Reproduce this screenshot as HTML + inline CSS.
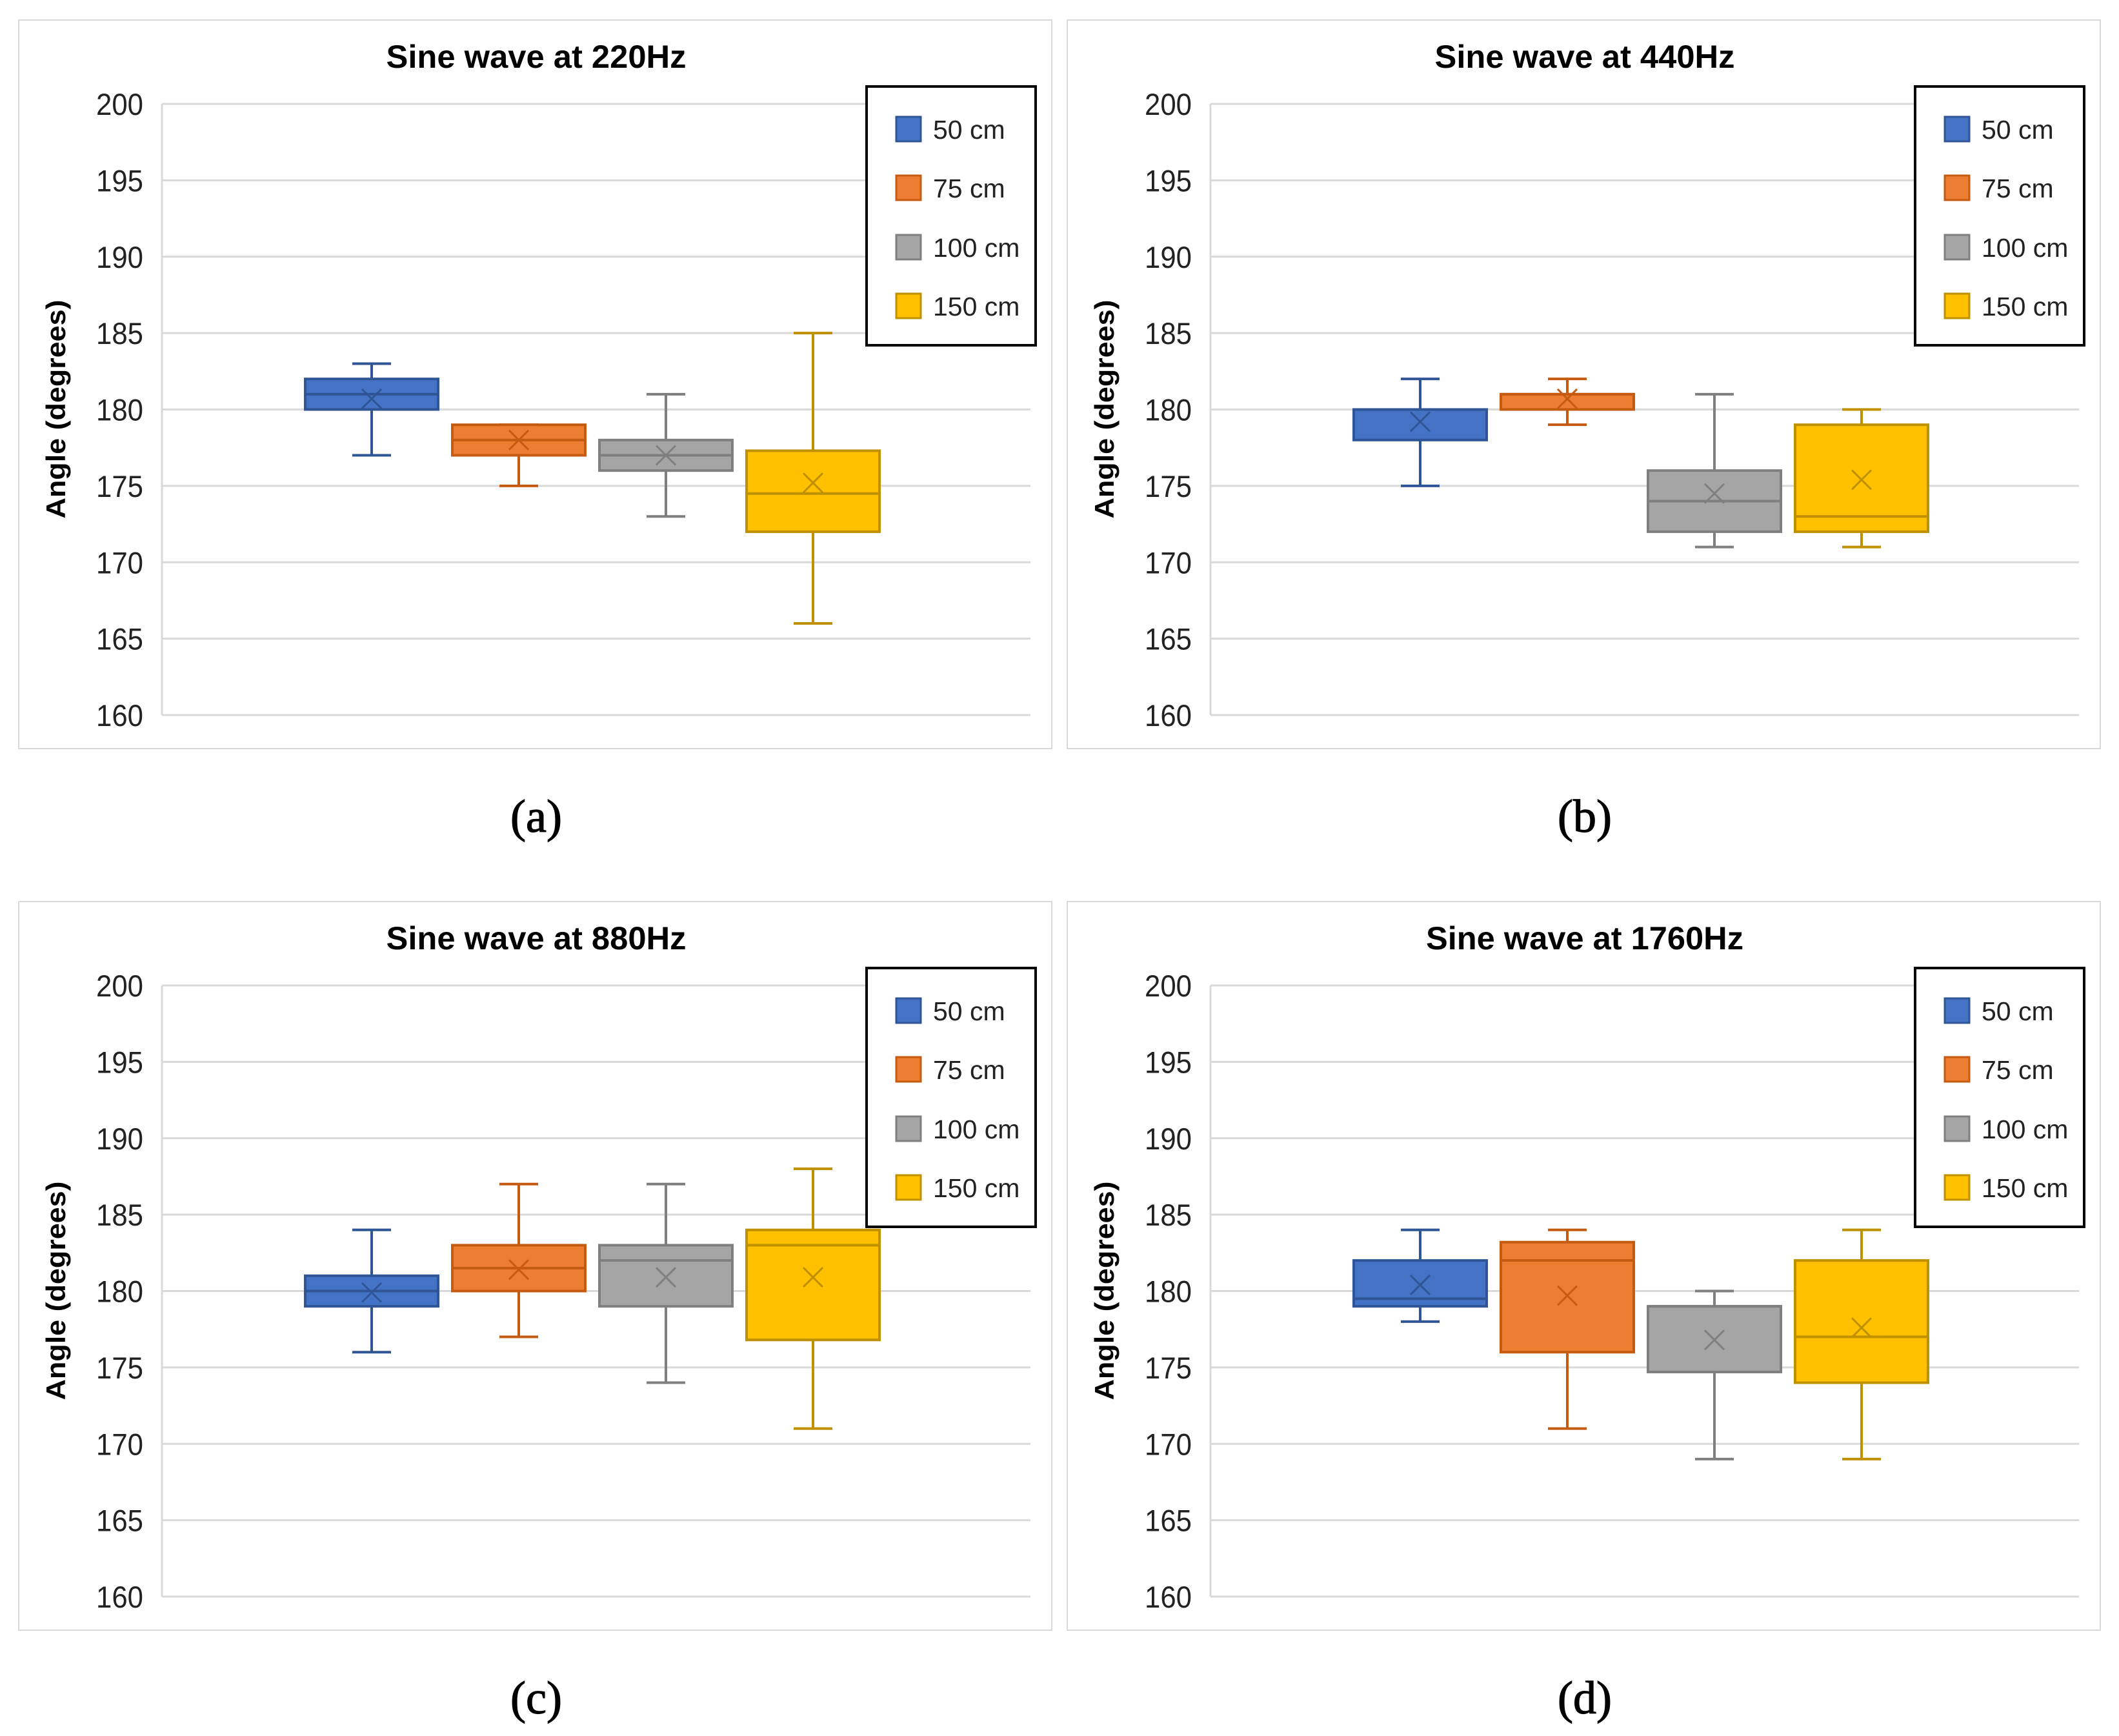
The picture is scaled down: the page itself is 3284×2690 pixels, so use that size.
<!DOCTYPE html>
<html><head><meta charset="utf-8"><style>
html,body{margin:0;padding:0;background:#fff;}
svg{display:block;}
</style></head><body>
<svg id="chart" xmlns="http://www.w3.org/2000/svg" width="3284" height="2690" viewBox="0 0 3284 2690"></svg>
<script>
const panelTitles = ["Sine wave at 220Hz","Sine wave at 440Hz","Sine wave at 880Hz","Sine wave at 1760Hz"];
const panelCaptions = ["(a)","(b)","(c)","(d)"];
const seriesNames = ["50 cm","75 cm","100 cm","150 cm"];
const yTicks = [160,165,170,175,180,185,190,195,200];
// per panel, per series: [min, q1, median, q3, max, mean]
const statsA = [[177,180,181,182,183,180.7],[175,177,178,179,179,178],[173,176,177,178,181,177],[166,172,174.5,177.3,185,175.2]];
const statsB = [[175,178,180,180,182,179.2],[179,180,181,181,182,180.7],[171,172,174,176,181,174.5],[171,172,173,179,180,175.4]];
const statsC = [[176,179,180,181,184,179.9],[177,180,181.5,183,187,181.4],[174,179,182,183,187,180.9],[171,176.8,183,184,188,180.9]];
const statsD = [[178,179,179.5,182,184,180.4],[171,176,182,183.2,184,179.7],[169,174.7,179,179,180,176.8],[169,174,177,182,184,177.6]];
const allStats = [statsA,statsB,statsC,statsD];

const fills = ["#4472C4","#ED7D31","#A5A5A5","#FFC000"];
const strokes = ["#2F5597","#C55A11","#7F7F7F","#BF9000"];
const NS = "http://www.w3.org/2000/svg";
const svg = document.getElementById('chart');
function mk(tag, attrs, parent){const e=document.createElementNS(NS,tag);for(const k in attrs)e.setAttribute(k,attrs[k]);(parent||svg).appendChild(e);return e;}

const offsets = [[0,0],[1625,0],[0,1366],[1625,1366]];
offsets.forEach((off,p)=>{
  const ox=off[0], oy=off[1];
  const g = mk('g',{transform:`translate(${ox},${oy})`});
  
  
  const border = mk('rect',{x:29,y:31,width:1601,height:1129,fill:'none',stroke:'#d9d9d9','stroke-width':2},g);
  
  
  const L=251,R=1597,T=161,B=1108;
  const yS = v => B - (v-160)/(200-160)*(B-T);
  const xC = i => L + 325 + i*228;
  yTicks.forEach(t=>{
    const gl = mk('line',{x1:L,x2:R,y1:yS(t),y2:yS(t),stroke:'#d9d9d9','stroke-width':3},g);
    
    
    const tl = mk('text',{x:222,y:yS(t)+17,'text-anchor':'end','font-family':'Liberation Sans, sans-serif','font-size':47,fill:'#222',textLength:73,lengthAdjust:'spacingAndGlyphs'},g);
    tl.textContent=t;
    
    
  });
  const ax = mk('line',{x1:L,x2:L,y1:T,y2:B,stroke:'#d9d9d9','stroke-width':3},g);
  
  
  const title = mk('text',{x:831,y:105,'text-anchor':'middle','font-family':'Liberation Sans, sans-serif','font-weight':'bold','font-size':50,fill:'#000',textLength:(p===3?492:465),lengthAdjust:'spacingAndGlyphs'},g);
  title.textContent=panelTitles[p];
  
  
  const yl = mk('text',{x:0,y:0,transform:`translate(101,634) rotate(-90)`,'text-anchor':'middle','font-family':'Liberation Sans, sans-serif','font-weight':'bold','font-size':42,fill:'#000',textLength:339,lengthAdjust:'spacingAndGlyphs'},g);
  yl.textContent='Angle (degrees)';
  
  
  allStats[p].forEach((s,i)=>{
    const cx=xC(i), w=206, cw=60, c=strokes[i];
    const bg = mk('g',{},g);
    
    
    mk('line',{x1:cx,x2:cx,y1:yS(s[4]),y2:yS(s[3]),stroke:c,'stroke-width':4},bg);
    mk('line',{x1:cx,x2:cx,y1:yS(s[1]),y2:yS(s[0]),stroke:c,'stroke-width':4},bg);
    mk('line',{x1:cx-cw/2,x2:cx+cw/2,y1:yS(s[4]),y2:yS(s[4]),stroke:c,'stroke-width':4},bg);
    mk('line',{x1:cx-cw/2,x2:cx+cw/2,y1:yS(s[0]),y2:yS(s[0]),stroke:c,'stroke-width':4},bg);
    mk('rect',{x:cx-w/2,y:yS(s[3]),width:w,height:Math.max(yS(s[1])-yS(s[3]),1),fill:fills[i],stroke:c,'stroke-width':4},bg);
    mk('line',{x1:cx-w/2,x2:cx+w/2,y1:yS(s[2]),y2:yS(s[2]),stroke:c,'stroke-width':4},bg);
    const m=yS(s[5]), d=15;
    mk('path',{d:`M${cx-d},${m-d}L${cx+d},${m+d}M${cx-d},${m+d}L${cx+d},${m-d}`,stroke:c,'stroke-width':3,fill:'none'},bg);
  });
  const lg = mk('g',{},g);
  
  
  mk('rect',{x:1343,y:134,width:262,height:401,fill:'#fff',stroke:'#000','stroke-width':4},lg);
  const rowY=[200,291,383,474];
  seriesNames.forEach((n,i)=>{
    const e = mk('g',{},lg);
    
    
    mk('rect',{x:1389,y:rowY[i]-19,width:38,height:38,fill:fills[i],stroke:strokes[i],'stroke-width':3},e);
    const t = mk('text',{x:1446,y:rowY[i]+15,'font-family':'Liberation Sans, sans-serif','font-size':41,fill:'#222'},e);
    t.textContent=n;
  });
  const cap = mk('text',{x:831,y:1289,'text-anchor':'middle','font-family':'Liberation Serif, serif','font-size':72,fill:'#000',stroke:'#000','stroke-width':1.2},g);
  cap.textContent=panelCaptions[p];
  
  
});
</script>
</body></html>
